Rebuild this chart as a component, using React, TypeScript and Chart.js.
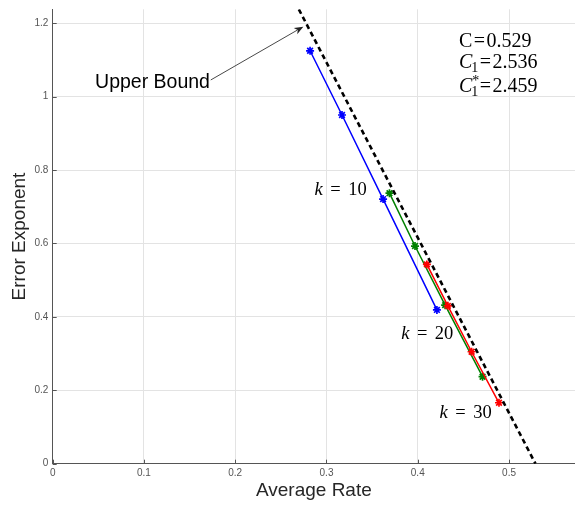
import React, { useEffect, useRef } from "react";
import { Chart, registerables } from "chart.js";
Chart.register(...registerables);

// ---- data ----
const blueRate = [0.282, 0.317, 0.362, 0.421];
const blueExp = [1.125, 0.95, 0.721, 0.419];
const greenRate = [0.369, 0.397, 0.43, 0.471];
const greenExp = [0.737, 0.593, 0.432, 0.237];
const redRate = [0.41, 0.433, 0.459, 0.489];
const redExp = [0.543, 0.43, 0.305, 0.166];
const boundRate = [0.2697, 0.529];
const boundExp = [1.238, 0];

const xTicks = [0, 0.1, 0.2, 0.3, 0.4, 0.5];
const yTicks = [0, 0.2, 0.4, 0.6, 0.8, 1, 1.2];
const xMax = 0.5723;
const yMax = 1.238;

const xTitle = "Average Rate";
const yTitle = "Error Exponent";

// annotations (data coordinates)
const upperText = "Upper Bound";
const upperTextAt = [0.0464, 1.0229];
const arrowFrom = [0.1732, 1.0455];
const arrowTo = [0.2746, 1.1907];

const constValues = ["0.529", "2.536", "2.459"];
const constX = 0.4452;
const constY = [1.1362, 1.0768, 1.0114];

const kLabels = ["10", "20", "30"];
const kRight = [0.3441, 0.439, 0.481];
const kBase = [0.7322, 0.3398, 0.1253];

const SANS = "'Liberation Sans', Arial, Helvetica, sans-serif";
const SERIF = "'Liberation Serif', 'Times New Roman', serif";

const toPts = (xs: number[], ys: number[]) => xs.map((x, i) => ({ x, y: ys[i] }));

const annotPlugin = {
  id: "annot",
  afterDraw(chart: any) {
    const { ctx, chartArea: ca } = chart;
    const xs = chart.scales.x;
    const ys = chart.scales.y;
    const px = (v: number) => xs.getPixelForValue(v);
    const py = (v: number) => ys.getPixelForValue(v);
    ctx.save();

    // inward tick marks
    ctx.strokeStyle = "#555";
    ctx.lineWidth = 1;
    ctx.beginPath();
    xTicks.forEach((v) => {
      const X = Math.round(px(v)) + 0.5;
      ctx.moveTo(X, ca.bottom);
      ctx.lineTo(X, ca.bottom - 4);
    });
    yTicks.forEach((v) => {
      const Y = Math.round(py(v)) + 0.5;
      ctx.moveTo(ca.left, Y);
      ctx.lineTo(ca.left + 4, Y);
    });
    ctx.stroke();

    // Upper Bound text + arrow
    ctx.fillStyle = "#000";
    ctx.font = `19.5px ${SANS}`;
    ctx.textBaseline = "alphabetic";
    ctx.textAlign = "left";
    ctx.fillText(upperText, px(upperTextAt[0]), py(upperTextAt[1]));

    const x0 = px(arrowFrom[0]), y0 = py(arrowFrom[1]);
    const x1 = px(arrowTo[0]), y1 = py(arrowTo[1]);
    const ang = Math.atan2(y1 - y0, x1 - x0);
    const hl = 9, hw = 3.5;
    const bx = x1 - hl * Math.cos(ang), by = y1 - hl * Math.sin(ang);
    ctx.strokeStyle = "#333";
    ctx.lineWidth = 0.9;
    ctx.beginPath();
    ctx.moveTo(x0, y0);
    ctx.lineTo(bx + 2 * Math.cos(ang), by + 2 * Math.sin(ang));
    ctx.stroke();
    ctx.fillStyle = "#222";
    ctx.beginPath();
    ctx.moveTo(x1, y1);
    ctx.lineTo(bx - hw * Math.sin(ang), by + hw * Math.cos(ang));
    ctx.lineTo(bx + 2.5 * Math.cos(ang), by + 2.5 * Math.sin(ang));
    ctx.lineTo(bx + hw * Math.sin(ang), by - hw * Math.cos(ang));
    ctx.closePath();
    ctx.fill();

    // constants block
    ctx.fillStyle = "#000";
    const big = `20px ${SERIF}`;
    const bigI = `italic 20px ${SERIF}`;
    const small = `14px ${SERIF}`;
    const eqPad = 1.5;
    const drawEq = (startX: number, y: number, value: string) => {
      ctx.font = big;
      ctx.fillText("=", startX + eqPad, y);
      const we = ctx.measureText("=").width;
      ctx.fillText(value, startX + eqPad * 2 + we, y);
    };
    const cx = px(constX);
    let cy = py(constY[0]);
    ctx.font = big;
    ctx.fillText("C", cx, cy);
    drawEq(cx + ctx.measureText("C").width, cy, constValues[0]);

    cy = py(constY[1]);
    ctx.font = bigI;
    ctx.fillText("C", cx, cy);
    const w = ctx.measureText("C").width;
    ctx.font = small;
    ctx.fillText("1", cx + w - 1, cy + 4);
    const w2 = ctx.measureText("1").width;
    drawEq(cx + w - 1 + w2, cy, constValues[1]);

    cy = py(constY[2]);
    ctx.font = bigI;
    ctx.fillText("C", cx, cy);
    ctx.font = small;
    ctx.fillText("*", cx + w, cy - 7);
    ctx.fillText("1", cx + w - 1, cy + 4);
    drawEq(cx + w - 1 + w2, cy, constValues[2]);

    // k labels
    const kFont = `italic 18.5px ${SERIF}`;
    const nFont = `18.5px ${SERIF}`;
    const gap = 7.5;
    kLabels.forEach((lab, i) => {
      ctx.font = kFont;
      const wk = ctx.measureText("k").width;
      ctx.font = nFont;
      const we = ctx.measureText("=").width;
      const wn = ctx.measureText(lab).width;
      const total = wk + gap + we + gap + wn;
      let lx = px(kRight[i]) - total;
      const ly = py(kBase[i]);
      ctx.font = kFont;
      ctx.fillText("k", lx, ly);
      lx += wk + gap;
      ctx.font = nFont;
      ctx.fillText("=", lx, ly);
      lx += we + gap;
      ctx.fillText(lab, lx, ly);
    });

    ctx.restore();
  },
};

export default function App() {
  const ref = useRef<HTMLCanvasElement>(null);
  useEffect(() => {
    if (!ref.current) return;
    const series = (xs: number[], ys: number[], color: string, order: number) => ({
      data: toPts(xs, ys),
      showLine: true,
      borderColor: color,
      backgroundColor: color,
      borderWidth: 1.5,
      pointStyle: "star",
      pointRadius: 4,
      pointBorderWidth: 1.7,
      pointBorderColor: color,
      order,
    });
    const chart = new Chart(ref.current, {
      type: "scatter",
      data: {
        datasets: [
          {
            data: toPts(boundRate, boundExp),
            showLine: true,
            borderColor: "#000",
            borderWidth: 2.6,
            borderDash: [5, 3.5],
            pointRadius: 0,
            order: 0,
          },
          series(redRate, redExp, "#ff0000", 1),
          series(greenRate, greenExp, "#008000", 2),
          series(blueRate, blueExp, "#0000ff", 3),
        ] as any,
      },
      options: {
        responsive: false,
        animation: false,
        devicePixelRatio: 1,
        layout: { autoPadding: false, padding: { top: 9.3, left: 0, right: 0, bottom: 0 } },
        plugins: { legend: { display: false }, tooltip: { enabled: false } },
        scales: {
          x: {
            type: "linear",
            min: 0,
            max: xMax,
            afterBuildTicks: (s: any) => {
              s.ticks = xTicks.map((v) => ({ value: v }));
            },
            afterFit: (s: any) => {
              s.height = 46.3;
              s.paddingRight = 0;
              s.paddingLeft = 0;
            },
            grid: { color: "#e3e3e3", drawTicks: false, lineWidth: 1 },
            border: { color: "#555", width: 1 },
            ticks: {
              padding: 4,
              autoSkip: false,
              maxRotation: 0,
              color: "#555",
              font: { family: SANS, size: 10 },
              callback: (v: any) => String(v),
            },
            title: {
              display: true,
              text: xTitle,
              color: "#262626",
              font: { family: SANS, size: 19 },
              padding: { top: 0, bottom: 7.6 },
            },
          },
          y: {
            type: "linear",
            min: 0,
            max: yMax,
            afterBuildTicks: (s: any) => {
              s.ticks = yTicks.map((v) => ({ value: v }));
            },
            afterFit: (s: any) => {
              s.width = 52.7;
              s.paddingTop = 0;
              s.paddingBottom = 0;
            },
            grid: { color: "#e3e3e3", drawTicks: false, lineWidth: 1 },
            border: { color: "#555", width: 1 },
            ticks: {
              padding: 4.4,
              autoSkip: false,
              color: "#555",
              font: { family: SANS, size: 10 },
              callback: (v: any) => String(v),
            },
            title: {
              display: true,
              text: yTitle,
              color: "#262626",
              font: { family: SANS, size: 19 },
              padding: { top: 8.6, bottom: 0 },
            },
          },
        },
      } as any,
      plugins: [annotPlugin],
    });
    return () => chart.destroy();
  }, []);
  return (
    <canvas
      ref={ref}
      width={575}
      height={510}
      style={{ position: "fixed", left: 0, top: 0, width: 575, height: 510 }}
    />
  );
}
